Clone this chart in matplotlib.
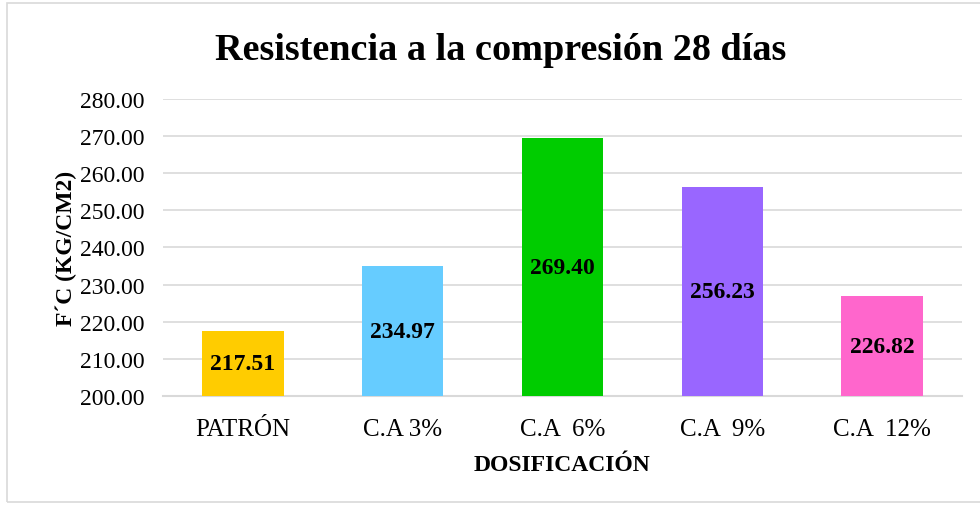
import matplotlib.pyplot as plt
from matplotlib.patches import Rectangle

# Data
categorias = ["PATRÓN", "C.A 3%", "C.A  6%", "C.A  9%", "C.A  12%"]
resistencia = [217.51, 234.97, 269.40, 256.23, 226.82]
colores = ["#FFCC00", "#66CCFF", "#00CC00", "#9966FF", "#FF66CC"]
y_ticks = [200, 210, 220, 230, 240, 250, 260, 270, 280]

plt.rcParams["font.family"] = ["Liberation Serif", "DejaVu Serif"]

fig = plt.figure(figsize=(9.8, 5.06), dpi=100)
ax = fig.add_axes([0.1663, 0.2154, 0.8153, 0.587])

# light border round the chart
fig.patches.append(Rectangle((7 / 980, 3 / 506), 975 / 980, 499 / 506,
                             transform=fig.transFigure, fill=False,
                             edgecolor="#d9d9d9", linewidth=1.2))

x = range(len(categorias))
ax.bar(x, [v - 200 for v in resistencia], bottom=200, width=0.51,
       color=colores, zorder=3)

ax.set_ylim(200, 280)
ax.set_xlim(-0.5, len(categorias) - 0.5)
ax.set_yticks(y_ticks)
ax.set_yticklabels([f"{t:.2f}" for t in y_ticks], fontsize=17)
ax.set_xticks(list(x))
ax.set_xticklabels(categorias, fontsize=18)
ax.tick_params(axis="both", length=0)
ax.tick_params(axis="y", pad=13)
ax.tick_params(axis="x", pad=16)
ax.grid(axis="y", color="#d9d9d9", linewidth=1.2, zorder=0)
for s in ["top", "right", "left"]:
    ax.spines[s].set_visible(False)
ax.spines["bottom"].set_color("#d9d9d9")
ax.spines["bottom"].set_linewidth(1.5)

# value labels in the middle of each bar
for i, v in enumerate(resistencia):
    y = max((v + 200) / 2, 205.1)
    ax.text(i, y, f"{v:.2f}", ha="center", va="center",
            fontsize=17, fontweight="bold", zorder=4)

ax.set_ylabel("F´C (KG/CM2)", fontsize=17, fontweight="bold", labelpad=2)
ax.set_xlabel("DOSIFICACIÓN", fontsize=17, fontweight="bold", labelpad=10)
fig.suptitle("Resistencia a la compresión 28 días", fontsize=27.5,
             fontweight="bold", x=0.511, y=0.935)

fig.savefig("out.png", dpi=100)
